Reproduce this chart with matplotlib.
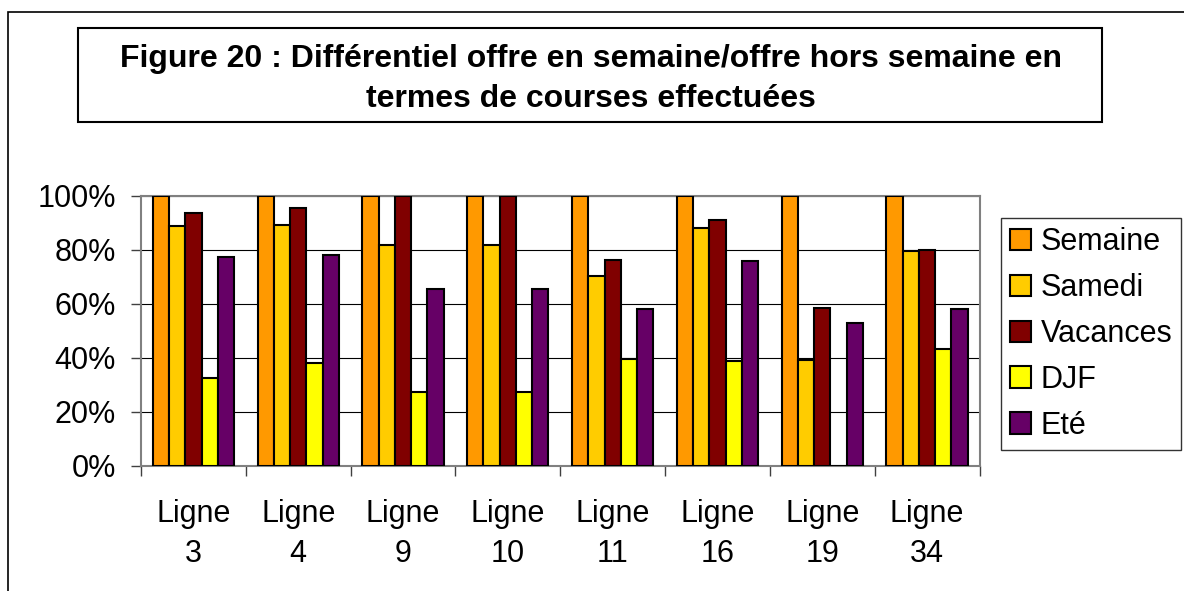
import matplotlib
matplotlib.use("Agg")
import matplotlib.pyplot as plt
import numpy as np
from matplotlib.patches import Rectangle

plt.rcParams['font.family'] = ['Liberation Sans', 'DejaVu Sans']

categories = ["Ligne\n3", "Ligne\n4", "Ligne\n9", "Ligne\n10", "Ligne\n11", "Ligne\n16", "Ligne\n19", "Ligne\n34"]
series_names = ["Semaine", "Samedi", "Vacances", "DJF", "Eté"]
semaine = [100, 100, 100, 100, 100, 100, 100, 100]
samedi = [88.6, 89.2, 81.7, 81.7, 70.2, 87.9, 39.1, 79.7]
vacances = [93.6, 95.4, 100, 100, 76.1, 90.9, 58.5, 80.0]
djf = [32.6, 38.2, 27.4, 27.4, 39.4, 38.6, 0, 43.3]
ete = [77.3, 78.1, 65.3, 65.3, 58.2, 75.9, 52.8, 58.0]
colors = ["#FF9900", "#FFCC00", "#800000", "#FFFF00", "#660066"]
yticks = [0, 20, 40, 60, 80, 100]
ytick_labels = ["0%", "20%", "40%", "60%", "80%", "100%"]
title = "Figure 20 : Différentiel offre en semaine/offre hors semaine en\ntermes de courses effectuées"

W, H = 1184, 591
fig = plt.figure(figsize=(W / 100, H / 100), dpi=100)

def fx(px):
    return px / W

def fy(py):
    return 1 - py / H

# outer frame
fig.add_artist(Rectangle((fx(8), fy(700)), fx(1400), fy(12) - fy(700),
                         transform=fig.transFigure, fill=False, edgecolor="black", lw=1.2))
# title box
fig.add_artist(Rectangle((fx(78), fy(122)), fx(1102) - fx(78), fy(28) - fy(122),
                         transform=fig.transFigure, fill=False, edgecolor="black", lw=1.5))
fig.text(fx(591), fy(79), title, ha="center", va="center", fontsize=23, fontweight="bold",
         linespacing=1.45)

ax = fig.add_axes([fx(141), fy(465.7), fx(979.5) - fx(141), fy(195.7) - fy(465.7)])
x = np.arange(len(categories))
bw = 0.155
all_series = [semaine, samedi, vacances, djf, ete]
for i, (vals, name, c) in enumerate(zip(all_series, series_names, colors)):
    ax.bar(x + (i - 2) * bw, vals, width=bw, color=c, edgecolor="black", linewidth=1.5,
           label=name, zorder=3)

ax.set_ylim(0, 100)
ax.set_xlim(-0.5, len(categories) - 0.5)
ax.set_yticks(yticks)
ax.set_yticklabels(ytick_labels, fontsize=22)
ax.yaxis.grid(True, color="black", lw=0.8, zorder=0)
ax.set_axisbelow(True)

ax.set_xticks(np.arange(-0.5, len(categories), 1.0))
ax.set_xticklabels([])
ax.set_xticks(x, minor=True)
ax.set_xticklabels(categories, minor=True, fontsize=22, linespacing=1.45)
ax.tick_params(axis="x", which="major", length=7, width=1, color="#404040", direction="out")
ax.tick_params(axis="x", which="minor", length=0, pad=24)
ax.tick_params(axis="y", which="major", length=7, width=1, color="#404040", direction="out", pad=11)

for s in ax.spines.values():
    s.set_color("#808080")
    s.set_linewidth(1.5)

leg = fig.legend(loc="upper left", bbox_to_anchor=(fx(1000.7), fy(218)),
                 fontsize=22, frameon=True, fancybox=False, edgecolor="black",
                 handlelength=0.7, handleheight=0.7, handletextpad=0.3,
                 labelspacing=0.52, borderpad=0.3, borderaxespad=0)
leg.get_frame().set_linewidth(1.0)

fig.savefig("out.png", dpi=100)
